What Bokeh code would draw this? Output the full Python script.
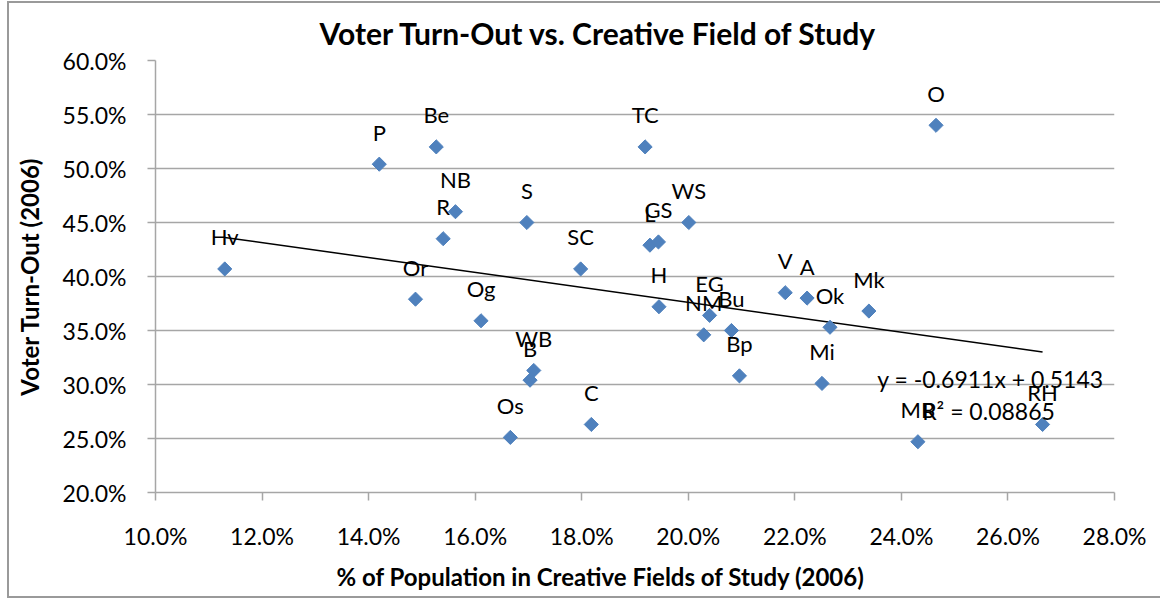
import numpy as np
from bokeh.plotting import figure
from bokeh.models import (Range1d, FixedTicker, NumeralTickFormatter, Label,
                          Title, ColumnDataSource)
from bokeh.core.properties import value
from bokeh.embed import file_html
from bokeh.resources import INLINE

# Neighbourhood codes with their 2006 figures
names = ["Hv", "P", "Be", "NB", "R", "TC", "S", "WS", "SC", "L", "GS",
         "Or", "Og", "H", "WB", "B", "Os", "C", "EG", "NM", "Bu", "Bp",
         "V", "A", "Ok", "Mi", "Mk", "O", "MB", "RH"]
creative_share = [0.1130, 0.1420, 0.1527, 0.1563, 0.1540, 0.1919, 0.1697,
                  0.2001, 0.1798, 0.1928, 0.1944, 0.1488, 0.1611, 0.1945,
                  0.1710, 0.1703, 0.1666, 0.1818, 0.2040, 0.2029, 0.2081,
                  0.2096, 0.2182, 0.2223, 0.2266, 0.2251, 0.2339, 0.2465,
                  0.2431, 0.2665]
turnout = [0.407, 0.504, 0.520, 0.460, 0.435, 0.520, 0.450, 0.450, 0.407,
           0.429, 0.432, 0.379, 0.359, 0.372, 0.313, 0.304, 0.251, 0.263,
           0.364, 0.346, 0.350, 0.308, 0.385, 0.380, 0.353, 0.301, 0.368,
           0.540, 0.247, 0.263]

# Linear trend fitted to the points
slope = -0.6911
intercept = 0.5143
r_squared = 0.08865

x_ticks = [0.10, 0.12, 0.14, 0.16, 0.18, 0.20, 0.22, 0.24, 0.26, 0.28]
y_ticks = [0.20, 0.25, 0.30, 0.35, 0.40, 0.45, 0.50, 0.55, 0.60]

FONT = "Lato"
GRID = "#a6a6a6"
BLUE = "#4f81bd"
EDGE = "#9a9a9a"

W, H = 1160, 602
LEFT, RIGHT, TOP, BOTTOM = 155, 46, 60, 110


def to_data(px, py):
    """Convert a page pixel position into the plot's data coordinates."""
    fx = (px - LEFT) / (W - LEFT - RIGHT)
    fy = (H - BOTTOM - py) / (H - TOP - BOTTOM)
    return (x_ticks[0] + fx * (x_ticks[-1] - x_ticks[0]),
            y_ticks[0] + fy * (y_ticks[-1] - y_ticks[0]))


src = ColumnDataSource(dict(x=creative_share, y=turnout, name=names))

p = figure(width=W, height=H,
           x_range=Range1d(x_ticks[0], x_ticks[-1]),
           y_range=Range1d(y_ticks[0], y_ticks[-1]),
           output_backend="svg", toolbar_location=None,
           min_border_left=LEFT, min_border_right=RIGHT,
           min_border_top=TOP, min_border_bottom=BOTTOM,
           background_fill_color="white", border_fill_color=None)
p.outline_line_color = None

# chart-area edge drawn behind the transparent border region
line = f"linear-gradient({EDGE}, {EDGE})"
p.styles = {
    "background-color": "white",
    "background-image": f"{line}, {line}, {line}",
    "background-position": "7px 1px, 7px 1px, 7px 596px",
    "background-size": "2px 597px, 1160px 2px, 1160px 2px",
    "background-repeat": "no-repeat",
}

# title
p.title.text = "Voter Turn-Out vs. Creative Field of Study"
p.title.align = "left"
p.title.offset = 164
p.title.text_font = FONT
p.title.text_font_style = "bold"
p.title.text_font_size = "30px"
p.title.text_color = "black"
p.title.standoff = 20

# grid: horizontal lines only
p.xgrid.visible = False
p.ygrid.ticker = FixedTicker(ticks=y_ticks)
p.ygrid.grid_line_color = GRID
p.ygrid.grid_line_width = 1.5

for ax, ticks in ((p.xaxis[0], x_ticks), (p.yaxis[0], y_ticks)):
    ax.ticker = FixedTicker(ticks=ticks)
    ax.formatter = NumeralTickFormatter(format="0.0%")
    ax.axis_line_color = GRID
    ax.axis_line_width = 1.5
    ax.major_tick_line_color = GRID
    ax.major_tick_line_width = 1.5
    ax.major_tick_out = 8
    ax.major_tick_in = 0
    ax.minor_tick_line_color = None
    ax.major_label_text_font = FONT
    ax.major_label_text_font_size = "23px"
    ax.major_label_text_color = "black"
p.yaxis.major_label_standoff = 21
p.xaxis.major_label_standoff = 21

p.yaxis.axis_label = "Voter Turn-Out (2006)"
p.yaxis.axis_label_text_font = FONT
p.yaxis.axis_label_text_font_style = "bold"
p.yaxis.axis_label_text_font_size = "24px"
p.yaxis.axis_label_text_color = "black"
p.yaxis.axis_label_standoff = 16

p.add_layout(Title(text="% of Population in Creative Fields of Study (2006)",
                   align="left", offset=181, text_font=FONT,
                   text_font_style="bold", text_font_size="24px",
                   text_color="black", standoff=14), "below")

# trend line across the span of the data
tx = np.array([min(creative_share), max(creative_share)])
p.line(tx, slope * tx + intercept, line_color="black", line_width=1.5)

p.scatter("x", "y", source=src, marker="square", angle=np.pi / 4, size=10,
          fill_color=BLUE, line_color=BLUE)

p.text("x", "y", text="name", source=src, y_offset=-32,
       text_align="center", text_baseline="middle",
       text_font=value(FONT), text_font_size="22px", text_color="black")

# trend equation
for px, py, txt in ((990, 378, f"y = {slope:.4f}x + {intercept:.4f}"),
                    (988, 410, f"R\u00b2 = {r_squared}")):
    x, y = to_data(px, py)
    p.add_layout(Label(x=x, y=y, text=txt, text_align="center",
                       text_baseline="middle", text_font=FONT,
                       text_font_size="23px", text_color="black"))

open("out.html", "w").write(file_html(p, INLINE))
